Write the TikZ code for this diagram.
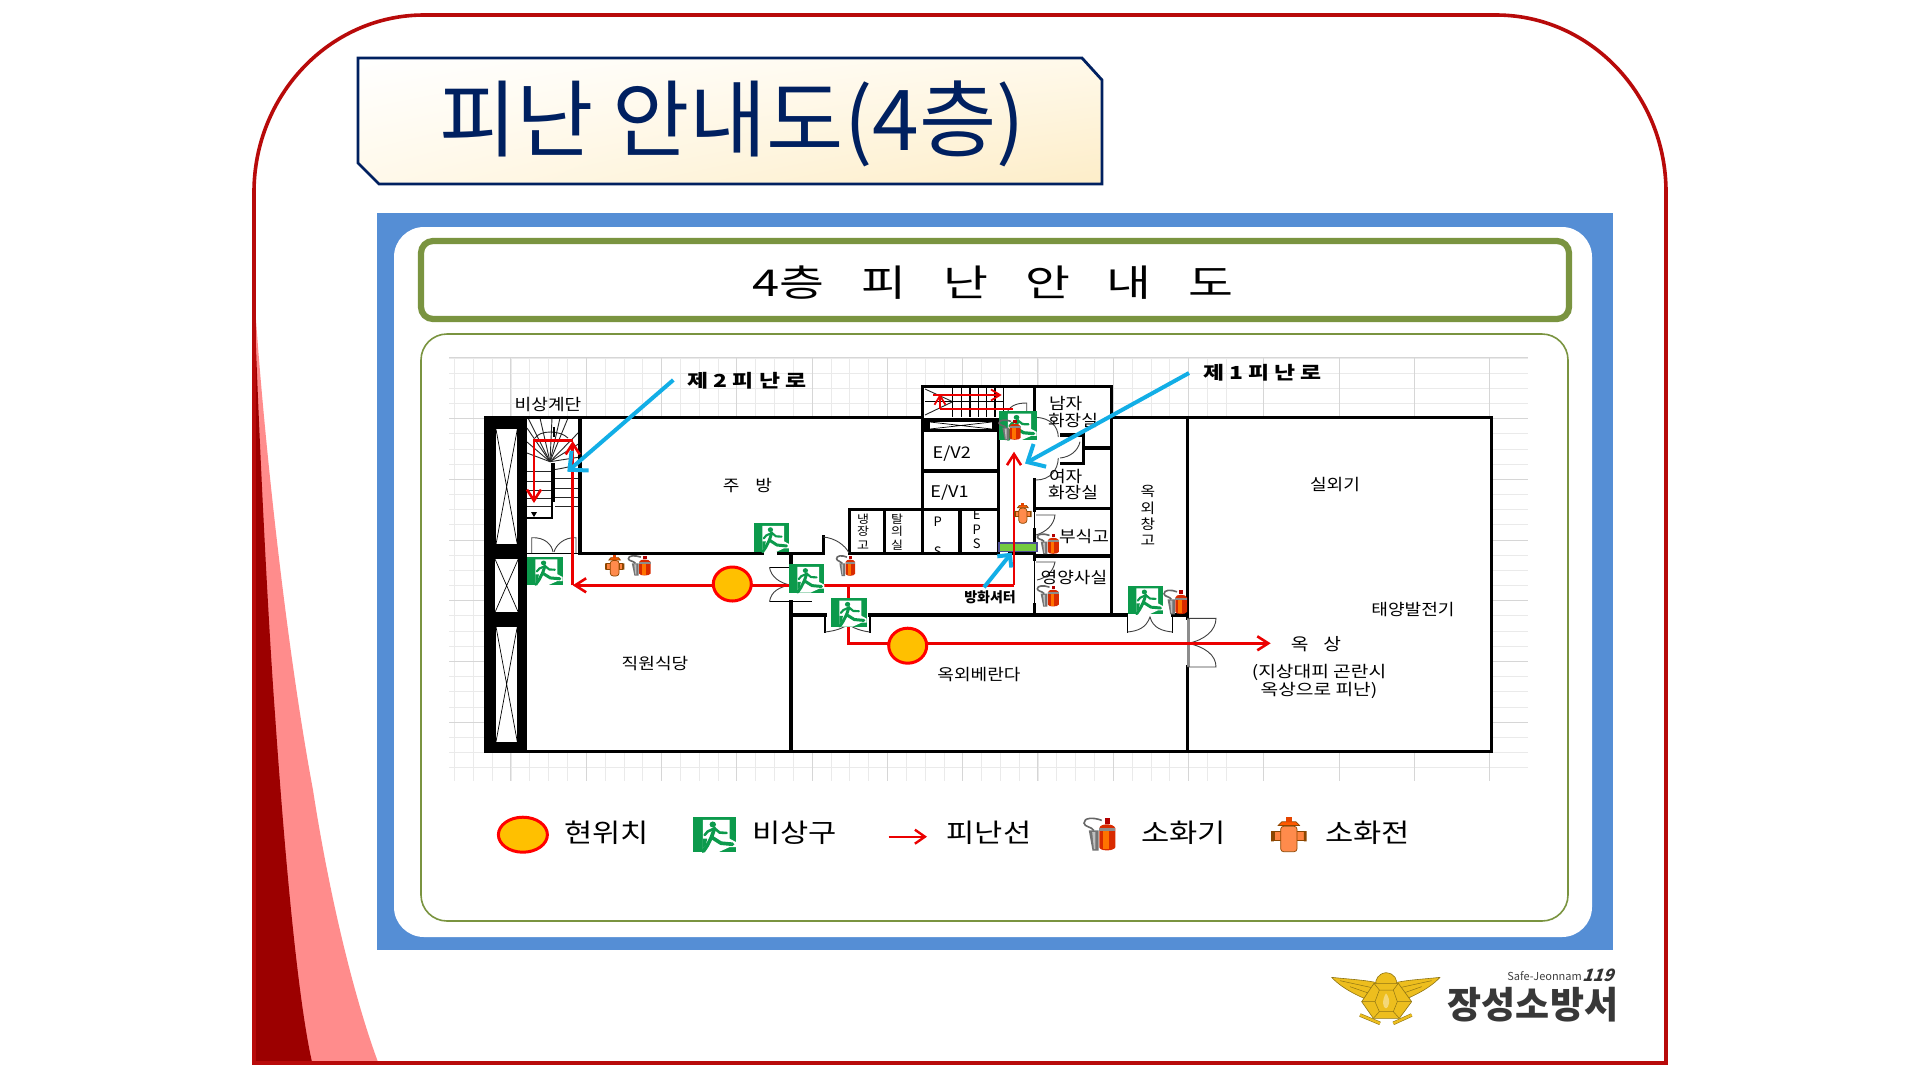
\documentclass[tikz,border=0pt]{standalone}
\usepackage{fontspec}
\usepackage{graphicx}
\setmainfont{Noto Sans CJK KR}
\usetikzlibrary{arrows.meta,calc,shadings}
\definecolor{frameRed}{HTML}{B80A0A}
\definecolor{darkRed}{HTML}{9C0000}
\definecolor{pinkRed}{HTML}{FF8C8C}
\definecolor{navy}{HTML}{002060}
\definecolor{panelBlue}{HTML}{558ED5}
\definecolor{oliveG}{HTML}{7A9440}
\definecolor{exitG}{HTML}{0C9A4C}
\definecolor{locY}{HTML}{FFC000}
\definecolor{arrowB}{HTML}{12AEE6}
\definecolor{gridMaj}{HTML}{D6D6D6}
\definecolor{gridMin}{HTML}{EAEAEA}
\definecolor{logoG}{HTML}{EDBE1E}
\definecolor{logoL}{HTML}{8E7414}
\definecolor{creamBR}{HTML}{FDEDC8}
\definecolor{creamM}{HTML}{FFF9EA}
\newcommand{\fs}[1]{\fontsize{#1}{#1}\selectfont}
\newcommand{\lb}[1]{\scalebox{1.13}[1]{#1}}
\newcommand{\wide}[2]{\scalebox{#1}[1]{#2}}
\tikzset{
  wall/.style={line width=3.3pt,black,line cap=rect},
  doorline/.style={line width=0.9pt,black!75},
  redroute/.style={line width=2.6pt,red!92!black,-{Straight Barb[length=11pt,width=14pt,line width=2.6pt]}},
  redplain/.style={line width=2.6pt,red!92!black},
  bluearrow/.style={line width=4pt,arrowB,-{Straight Barb[length=14pt,width=26pt,line width=4pt]}},
  loc/.style={fill=locY,draw=red,line width=3pt},
  txt/.style={inner sep=0pt,outer sep=0pt,align=center,black,font=\fs{16}},
  treadline/.style={line width=0.9pt,black!85},
}
\newcommand{\exitsign}[4]{%
 \begin{scope}[shift={(#1,#2)},x=#3pt,y=-#4pt,line cap=round,line join=round]
  \fill[exitG] (0,0) rectangle (1,1);
  \fill[white] (.23,.09) -- (.85,.09) -- (.85,.62) -- (1,.72) -- (1,.86) -- (.85,.86) -- (.6,1) -- (.23,1) -- cycle;
  \fill[exitG] (.23,.62) -- (.33,.62) -- (.3,.8) -- (.23,.9) -- cycle;
  \fill[exitG] (.46,.22) circle[x radius=.075,y radius=.085];
  \draw[exitG,line width=#3*.085pt] (.5,.33) -- (.43,.58) -- (.65,.75) -- (.92,.78);
  \draw[exitG,line width=#3*.085pt] (.43,.58) -- (.33,.82) -- (.24,.98);
  \draw[exitG,line width=#3*.06pt] (.5,.33) -- (.34,.42) -- (.27,.52);
  \draw[exitG,line width=#3*.06pt] (.5,.33) -- (.62,.45) -- (.78,.46);
 \end{scope}}
\newcommand{\extinguisher}[4]{%
 \begin{scope}[shift={(#1,#2)},x=#3pt,y=-#4pt]
  \draw[black!60,line width=1.6pt,fill=none] (.55,.1) .. controls (.3,.0) and (.02,.02) .. (.03,.18) .. controls (.04,.3) and (.25,.28) .. (.32,.4);
  \fill[black!55] (.17,.4) -- (.46,.4) -- (.46,1) -- (.28,1) -- cycle;
  \fill[black!25] (.27,.45) -- (.36,.45) -- (.36,.95) -- (.32,.95) -- cycle;
  \fill[orange!40!red!85!black] (.48,.9) -- (.48,.33) .. controls (.5,.18) and (.9,.18) .. (.95,.33) -- (.95,.9) .. controls (.9,1.02) and (.5,1.02) .. (.48,.9) -- cycle;
  \fill[orange!90!red] (.6,.34) rectangle (.76,.95);
  \fill[black!45] (.48,.34) rectangle (.95,.42);
  \fill[red!70!black] (.64,.03) rectangle (.79,.2);
 \end{scope}}
\newcommand{\hydrant}[4]{%
 \begin{scope}[shift={(#1,#2)},x=#3pt,y=-#4pt]
  \filldraw[fill=orange!70!red!75,draw=orange!55!black,line width=.7pt] (.08,.42) rectangle (.28,.68);
  \filldraw[fill=orange!70!red!75,draw=orange!55!black,line width=.7pt] (.72,.42) rectangle (.92,.68);
  \fill[orange!55!black] (0,.4) rectangle (.08,.7) (.92,.4) rectangle (1,.7);
  \filldraw[fill=orange!70!red!70,draw=orange!55!black,line width=.7pt,rounded corners=3pt] (.27,.26) rectangle (.73,1);
  \filldraw[fill=orange!70!red,draw=orange!55!black,line width=.7pt] (.2,.24) -- (.3,.13) -- (.7,.13) -- (.8,.24) -- cycle;
  \fill[orange!60!red!90!black] (.42,0) rectangle (.58,.14);
 \end{scope}}
\begin{document}
\begin{tikzpicture}[x=1pt,y=-1pt]
\useasboundingbox (0,0) rectangle (1920,1080);
\fill[white] (0,0) rectangle (1920,1080);
% left decoration
\fill[pinkRed] (254,290) .. controls (262,420) and (285,640) .. (313,790) .. controls (330,900) and (355,1000) .. (378,1062) -- (254,1062) -- cycle;
\fill[darkRed] (254,290) .. controls (258,420) and (268,620) .. (275,714) .. controls (285,860) and (298,1000) .. (312,1062) -- (254,1062) -- cycle;
% frame
\draw[frameRed,line width=3.6pt] (254,1063) -- (254,192) .. controls (254,95) and (330,15) .. (424,15) -- (1496,15) .. controls (1590,15) and (1666,95) .. (1666,192) -- (1666,1063) -- cycle;
% title box
\shade[lower right=creamBR,lower left=creamM,upper left=white,upper right=creamM]
  (358,58) -- (1082,58) -- (1102,80) -- (1102,184) -- (379,184) -- (358,163) -- cycle;
\draw[navy,line width=2.8pt,line join=miter] (358,58) -- (1082,58) -- (1102,80) -- (1102,184) -- (379,184) -- (358,163) -- cycle;
\node[inner sep=0pt,text=navy,font=\fs{84}] (title) at (732,124) {피난 안내도(4층)};
% panel
\fill[panelBlue] (377,213) rectangle (1613,950);
\fill[white,rounded corners=30pt] (394,227) rectangle (1592,937);
\draw[oliveG,line width=6.2pt,rounded corners=12pt] (421,241) rectangle (1569,319);
\node[inner sep=0pt,font=\fs{37}] (head) at (993,283) {\scalebox{1.32}[1]{4층\hspace{28pt}피\hspace{28pt}난\hspace{28pt}안\hspace{28pt}내\hspace{28pt}도}};
\draw[oliveG,line width=1.6pt,rounded corners=26pt] (421,334) rectangle (1568,921);
% grid
\begin{scope}
\clip (449,357) rectangle (1528,781);
\foreach \i in {-2,...,60}{\draw[gridMin,line width=.7pt] ({1188.5-18.82*\i},357) -- ++(0,424);}
\foreach \j in {-12,...,30}{\draw[gridMin,line width=.7pt] (449,{479.3+15.17*\j}) -- ++(1079,0);}
\foreach \i in {-11,...,5}{\draw[gridMaj,line width=.9pt] ({1188.5+75.3*\i},357) -- ++(0,424);}
\foreach \j in {-3,...,6}{\draw[gridMaj,line width=.9pt] (449,{479.3+60.7*\j}) -- ++(1079,0);}
\end{scope}
% building interior
\fill[white] (486,417.5) -- (922,417.5) -- (922,386.7) -- (1111.7,386.7) -- (1111.7,417.5) -- (1491.7,417.5) -- (1491.7,751.7) -- (486,751.7) -- cycle;
% labels clipped by wall
\begin{scope}
\clip (925,510) rectangle (958,552);
\node[txt,font=\fs{13}] (psP) at (937.7,522) {P};
\node[txt,font=\fs{13}] (psS) at (937.7,552) {S};
\end{scope}
% left solid column
\fill[black] (486,417.5) rectangle (526.7,751.7);
\foreach \a/\b/\c/\d in {496/429.3/517.3/544.3,495/559/518.3/612.3,496/626.7/517.3/741.7}{
  \fill[white] (\a,\b) rectangle (\c,\d);
  \draw[black,line width=.7pt] (\a,\b) -- (\c,\d) (\a,\d) -- (\c,\b);
}
% spiral stair
\foreach \x/\y in {528/418,540/418,552/418,560/418,568/418,580/431,580/443,580/457,527/428,527/442,527/453}{
  \draw[treadline] (550,461.7) -- (\x,\y);
}
\draw[treadline] (535,438) .. controls (540,430) and (560,430) .. (568,438);
\foreach \y in {471.7,481,490,498.3,506.7}{\draw[treadline] (527,\y) -- (552,\y);}
\foreach \y in {478.3,488.3,497.3,506.7}{\draw[treadline] (555,\y) -- (580,\y);}
\draw[treadline] (555,469.5) .. controls (565,468) and (572,466) .. (580,464);
\draw[black,line width=4pt] (553,463) -- (553,501.7);
\draw[black,line width=1.4pt] (527,518) -- (552,518) -- (552,501);
\draw[black,line width=1.5pt] (554,427) -- (554,437);
\fill[black] (531,512) -- (537,512) -- (534,517) -- cycle;
% top stair
\draw[treadline] (925,389) -- (952.7,401.7) -- (925,415);
\foreach \x in {952.7,961.7,970,978.3,986.7,995,1003.3}{\draw[line width=1.1pt,black] (\x,386.7) -- (\x,417);}
\draw[line width=1.1pt,black] (925,401.7) -- (1003.3,401.7);
% walls
\draw[wall] (486,417.5) -- (922.3,417.5);
\draw[wall] (1111.7,417.5) -- (1491.7,417.5) -- (1491.7,751.7) -- (486,751.7) -- (486,417.5);
\draw[wall] (580,417.5) -- (580,553.3) -- (762,553.3);
\draw[wall] (779,553.3) -- (823.3,553.3) -- (823.3,537);
\draw[wall] (849.3,553.3) -- (998.7,553.3);
\draw[line width=1.4pt,black] (527,553.3) -- (580,553.3);
\draw[wall] (849.3,553.3) -- (849.3,509.3) -- (998.7,509.3);
\draw[wall] (884.7,509.3) -- (884.7,553.3);
\draw[wall] (922.3,553.3) -- (922.3,386.7) -- (1111.7,386.7) -- (1111.7,615);
\draw[wall] (960,509.3) -- (960,553.3);
\draw[wall] (998.7,432) -- (998.7,553.3);
\draw[wall] (922.3,470.9) -- (998.7,470.9);
\draw[line width=14.5pt,black] (922.3,425) -- (998.7,425);
\fill[white] (930,422) rectangle (991.7,429);
\draw[black,line width=.7pt] (930,422) -- (991.7,429) (930,429) -- (991.7,422);
\draw[wall] (1034.3,386.7) -- (1034.3,416.7);
\draw[wall] (1034.3,480) -- (1034.3,510);
\draw[wall] (1034.3,530) -- (1034.3,559);
\draw[wall] (1034.3,605) -- (1034.3,615);
\draw[line width=1.4pt,black] (1034.3,510) -- (1034.3,530) (1034.3,559) -- (1034.3,605);
\draw[wall] (1034.3,508.3) -- (1111.7,508.3);
\draw[wall] (1034.3,556) -- (1111.7,556);
\draw[wall] (1083.3,448) -- (1111.7,448);
\draw[line width=3.6pt,black] (1060,435) -- (1083.3,435) -- (1083.3,463.3) -- (1060,463.3);
\draw[wall] (1034.3,553.3) -- (1010,553.3);
\draw[wall] (791,553.3) -- (791,566.7);
\draw[wall] (791,601.7) -- (791,751.7);
\draw[wall] (791,615) -- (825,615);
\draw[wall] (870,615) -- (1126.7,615);
\draw[wall] (1173,615) -- (1187.3,615);
\draw[wall] (1187.3,417.5) -- (1187.3,618);
\draw[wall] (1187.3,667) -- (1187.3,751.7);
\draw[line width=2.4pt,black!45] (1188.5,618) -- (1188.5,667);
% doors
\draw[doorline] (531.7,553) -- (531.7,537.7) .. controls (545,537) and (552,545) .. (553,552);
\draw[doorline] (576,553) -- (576,537.7) .. controls (564,537) and (556,545) .. (554,552);
\draw[doorline] (823.3,537) .. controls (835,538) and (845,545) .. (849,553);
\draw[line width=1.2pt,black] (769.5,567.3) -- (790,567.3);
\draw[line width=1.2pt,black] (769.5,601.7) -- (811.7,601.7);
\draw[doorline] (769.5,601.7) .. controls (771,591) and (780,587) .. (790,585);
\draw[doorline] (769.5,567.3) .. controls (771,577) and (780,583) .. (790,585);
\draw[wall,line width=1.4pt] (825,615) -- (825,632);
\draw[wall,line width=1.4pt] (870,615) -- (870,632);
\draw[doorline] (825,632) .. controls (835,631) and (844,628) .. (848,624) .. controls (853,628) and (861,631) .. (870,632);
\draw[wall,line width=1.4pt] (1127.3,615) -- (1127.3,632);
\draw[wall,line width=1.4pt] (1172.7,615) -- (1172.7,632);
\draw[doorline] (1127.3,632) .. controls (1138,631) and (1146,628) .. (1150,617) .. controls (1153,628) and (1162,631) .. (1172.7,632);
\draw[doorline] (1187.3,618.3) -- (1216,618.3) .. controls (1216,630) and (1205,640) .. (1188,643.3);
\draw[doorline] (1187.3,667) -- (1216,667) .. controls (1216,655) and (1205,647) .. (1188,643.3);
\draw[doorline] (1036,417.3) .. controls (1050,418) and (1058,426) .. (1058.3,437);
\draw[doorline] (1036,480) .. controls (1050,480) and (1058,470) .. (1058.3,458);
\draw[doorline] (1060,458) .. controls (1070,457) and (1078,451) .. (1080,441.7);
\draw[doorline] (1036,515) -- (1055,515) .. controls (1054,525) and (1046,532) .. (1036,535);
\draw[doorline] (1036,562) -- (1055,562) .. controls (1053,572) and (1046,578) .. (1037,580);
\draw[doorline] (1006,416) .. controls (1008,406) and (1016,403) .. (1026.7,403) -- (1026.7,412);
% shutter
\filldraw[fill=green!45!olive!75,draw=blue!40!black!70,line width=1.8pt] (999,543) rectangle (1037,551.5);
% labels
\node[txt,font=\fs{18}\bfseries] (l2) at (747,381) {\wide{1.27}{제 2 피 난 로}};
\node[txt,font=\fs{18}\bfseries] (l1) at (1262.5,373) {\wide{1.27}{제 1 피 난 로}};
\node[txt] (stair) at (548,405) {\lb{비상계단}};
\node[txt] (kit) at (747.5,485) {\lb{주\hspace{14pt}방}};
\node[txt] (cafe) at (655,663) {\lb{직원식당}};
\foreach \t/\y in {냉/519,장/531,고/545}{\node[txt,font=\fs{11.5}] at (863,\y) {\lb{\t}};}
\foreach \t/\y in {탈/519,의/531,실/545}{\node[txt,font=\fs{11.5}] at (897,\y) {\lb{\t}};}
\foreach \t/\y in {E/515,P/530,S/544}{\node[txt,font=\fs{13}] at (976.7,\y) {\t};}
\node[txt] (ev2) at (951.7,454) {\lb{E/V2}};
\node[txt] (ev1) at (949.5,493) {\lb{E/V1}};
\node[txt,anchor=west] (m1) at (1049,403) {\lb{남자}};
\node[txt,anchor=west] (m2) at (1048,420) {\lb{화장실}};
\node[txt,anchor=west] (w1) at (1049,476.7) {\lb{여자}};
\node[txt,anchor=west] (w2) at (1048,492.7) {\lb{화장실}};
\node[txt,anchor=west] (food) at (1059,536.7) {\lb{부식고}};
\node[txt,anchor=west] (diet) at (1040.7,577.3) {\lb{영양사실}};
\foreach \t/\y in {옥/491.7,외/508.3,창/524.3,고/540}{\node[txt,font=\fs{14}] at (1148,\y) {\lb{\t}};}
\node[txt,font=\fs{14}\bfseries] (shut) at (990,597) {방화셔터};
\node[txt] (ver) at (979,675) {\lb{옥외베란다}};
\node[txt] (out) at (1335,485) {\lb{실외기}};
\node[txt] (solar) at (1413,609.3) {\lb{태양발전기}};
\node[txt,font=\fs{17}] (roof) at (1316,644) {\lb{옥\hspace{13pt}상}};
\node[txt] (note1) at (1319,672.7) {\wide{1.2}{(지상대피 곤란시}};
\node[txt] (note2) at (1319,690.7) {\wide{1.2}{옥상으로 피난)}};
% route
\draw[redroute] (1014,585.3) -- (572.7,585.3);
\draw[redroute] (1014,585.3) -- (1014,451.7);
\draw[redplain] (848.3,585.3) -- (848.3,643.3) -- (900,643.3);
\draw[redroute] (900,643.3) -- (1270.7,643.3);
\draw[redroute] (572.7,585.3) -- (572.7,441);
\draw[redplain] (572.7,440.5) -- (534,440.5);
\draw[redroute] (534,439.2) -- (534,503);
\draw[line width=1.8pt,red!92!black,-{Straight Barb[length=9pt,width=11pt,line width=1.8pt]}] (933,395) -- (1001.7,395);
\draw[line width=1.8pt,red!92!black] (940,409) -- (1013,409);
\draw[line width=1.8pt,red!92!black,-{Straight Barb[length=9pt,width=11pt,line width=1.8pt]}] (940,409) -- (940,394);
% location markers
\draw[loc] (732.3,584) ellipse[x radius=19,y radius=17];
\draw[loc] (907.7,645.7) ellipse[x radius=19,y radius=17.5];
% exits
\exitsign{527.3}{556.7}{35.4}{28.3}
\exitsign{754.3}{523.3}{35}{29}
\exitsign{789.3}{564.3}{35}{28.4}
\exitsign{831.3}{598}{35.4}{28.7}
\exitsign{999.3}{411}{37.4}{29}
\exitsign{1128.3}{585.7}{35}{28.6}
% extinguishers and hydrants
\extinguisher{627.7}{555}{24}{20.7}
\extinguisher{836}{555}{20}{21}
\extinguisher{998.3}{419.3}{23.4}{20.7}
\extinguisher{1036.7}{533.3}{23.3}{20.7}
\extinguisher{1036.7}{585}{23.3}{21.7}
\extinguisher{1163.3}{589.3}{25}{25}
\hydrant{605}{555}{19.3}{21}
\hydrant{1014}{502.7}{17.7}{20.6}
% blue arrows
\draw[bluearrow] (673.3,380) -- (567.3,471.7);
\draw[bluearrow] (1189,373) -- (1025,463.5);
\draw[line width=4pt,arrowB,-{Straight Barb[length=9pt,width=18pt,line width=4pt]}] (984,587.3) -- (1011.7,552.7);
% legend
\draw[loc] (522.9,834.7) ellipse[x radius=24.5,y radius=17.5];
\node[txt,font=\fs{26},anchor=west] (lg1) at (564,833) {\wide{1.18}{현위치}};
\exitsign{693}{816.7}{43}{35.3}
\node[txt,font=\fs{26},anchor=west] (lg2) at (752.5,833) {\wide{1.18}{비상구}};
\draw[line width=2.4pt,red!92!black,-{Straight Barb[length=10pt,width=14pt,line width=2.4pt]}] (888.5,836.7) -- (927,836.7);
\node[txt,font=\fs{26},anchor=west] (lg3) at (946.6,833) {\wide{1.18}{피난선}};
\extinguisher{1083}{817}{34}{33.7}
\node[txt,font=\fs{26},anchor=west] (lg4) at (1141,833) {\wide{1.18}{소화기}};
\hydrant{1271}{817.3}{35.7}{34.4}
\node[txt,font=\fs{26},anchor=west] (lg5) at (1325,833) {\wide{1.18}{소화전}};
% logo
\begin{scope}[shift={(1300,940)},x=.3333pt,y=-.3333pt]
 \filldraw[fill=logoG,draw=logoL,line width=.6pt,line join=round] (95,112) .. controls (150,118) and (200,120) .. (240,130) -- (218,185) .. controls (190,175) and (130,150) .. (95,112) -- cycle;
 \filldraw[fill=logoG,draw=logoL,line width=.6pt,line join=round] (420,112) .. controls (365,118) and (315,120) .. (278,130) -- (298,185) .. controls (325,175) and (385,150) .. (420,112) -- cycle;
 \draw[logoL,line width=.5pt] (120,122) -- (225,145) (150,140) -- (222,165) (395,122) -- (290,145) (365,140) -- (294,165);
 \draw[logoL,line width=3.5pt] (180,225) -- (240,250) (335,225) -- (280,250);
 \draw[logoG,line width=2.4pt] (180,225) -- (240,250) (335,225) -- (280,250);
 \filldraw[fill=logoG,draw=logoL,line width=.6pt] (258,98) .. controls (285,100) and (292,120) .. (290,135) -- (228,135) .. controls (224,120) and (235,100) .. (258,98) -- cycle;
 \filldraw[fill=logoG,draw=logoL,line width=.6pt,line join=round] (222,130) -- (295,130) -- (335,185) -- (298,235) -- (220,235) -- (185,185) -- cycle;
 \draw[logoL,line width=.5pt] (238,150) -- (280,150) -- (292,185) -- (280,215) -- (238,215) -- (225,185) -- cycle
   (238,150) -- (222,130) (280,150) -- (295,130) (292,185) -- (335,185) (280,215) -- (298,235) (238,215) -- (220,235) (225,185) -- (185,185);
 \fill[white!40!logoG] (258,160) .. controls (275,180) and (265,205) .. (258,205) .. controls (248,205) and (245,180) .. (258,160) -- cycle;
\end{scope}
\node[inner sep=0pt,anchor=east,text=black!75,font=\fs{11}] (safe) at (1582,976) {Safe-Jeonnam};
\node[inner sep=0pt,anchor=west,text=black!80,font=\fs{17}\bfseries,xslant=.35,transform shape] (n119) at (1584,975) {119};
\node[inner sep=0pt,text=black!78,font=\fs{37}\bfseries] (org) at (1533,1005) {장성소방서};
\end{tikzpicture}
\end{document}
